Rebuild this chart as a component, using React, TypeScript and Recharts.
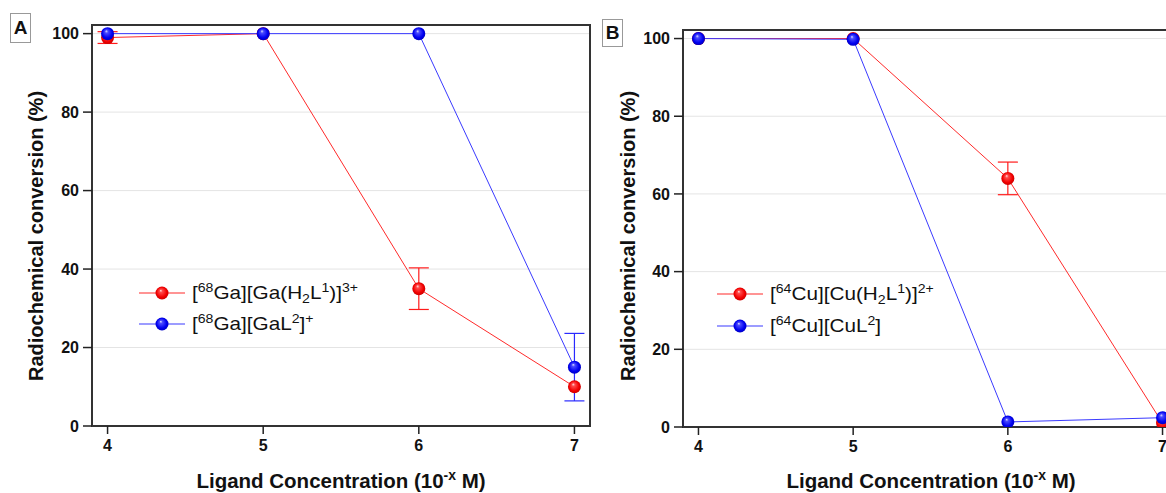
import React from 'react'
import {
  LineChart,
  Line,
  XAxis,
  YAxis,
  CartesianGrid,
  ErrorBar,
  ReferenceArea,
} from 'recharts'

const FONT = '"Liberation Sans", Arial, Helvetica, sans-serif'

// ligand concentration exponents (10^-x M)
const concentrations = [4, 5, 6, 7]
const xTicks = [4, 5, 6, 7]
const yTicks = [0, 20, 40, 60, 80, 100]

// panel A: 68Ga
const gaL1 = [99, 100, 35, 10]
const gaL1Err = [1.5, 0, 5.3, 0]
const gaL2 = [100, 100, 100, 15]
const gaL2Err = [0, 0, 0, 8.6]

// panel B: 64Cu
const cuL1 = [100, 100, 64, 1]
const cuL1Err = [0, 0, 4.2, 0]
const cuL2 = [100, 99.8, 1.3, 2.4]
const cuL2Err = [0, 0, 0, 0]

const RED = '#ff2a2a'
const BLUE = '#3a3aff'

function buildRows(red: number[], redErr: number[], blue: number[], blueErr: number[]) {
  return concentrations.map((x, i) => ({
    x,
    red: red[i],
    redErr: redErr[i],
    blue: blue[i],
    blueErr: blueErr[i],
  }))
}

const sphereDot = (gradId: string) => (props: any) => {
  const { cx, cy, index } = props
  if (cx == null || cy == null) return <g key={`d-${gradId}-${index}`} />
  return (
    <circle
      key={`d-${gradId}-${index}`}
      cx={cx}
      cy={cy}
      r={6.5}
      fill={`url(#${gradId})`}
    />
  )
}

function Sup({ children }: { children: React.ReactNode }) {
  return (
    <span style={{ fontSize: '0.68em', verticalAlign: '0.55em', lineHeight: 0 }}>
      {children}
    </span>
  )
}

function Sub({ children }: { children: React.ReactNode }) {
  return (
    <span style={{ fontSize: '0.68em', verticalAlign: '-0.3em', lineHeight: 0 }}>
      {children}
    </span>
  )
}

function LegendRow({ gradId, color, top, left, children }: any) {
  return (
    <div style={{ position: 'absolute', left, top: top - 14, height: 28, display: 'flex', alignItems: 'center' }}>
      <svg width={48} height={28} style={{ overflow: 'visible' }}>
        <line x1={0} x2={46} y1={14} y2={14} stroke={color} strokeWidth={1.2} />
        <circle cx={23} cy={14} r={6.5} fill={`url(#${gradId})`} />
      </svg>
      <span
        style={{
          marginLeft: 5,
          fontSize: 18.5,
          fontFamily: FONT,
          color: '#111',
          whiteSpace: 'nowrap',
          display: 'inline-block',
          transform: 'scaleX(1.12)',
          transformOrigin: 'left center',
        }}
      >
        {children}
      </span>
    </div>
  )
}

interface PanelProps {
  left: number
  width: number
  margin: { top: number; right: number; bottom: number; left: number }
  rows: ReturnType<typeof buildRows>
}

const Y_AXIS_W = 60
const X_AXIS_H = 40

function Panel({ left, width, margin, rows }: PanelProps) {
  const tickStyle = { fontSize: 16, fontWeight: 700, fill: '#111', fontFamily: FONT }
  return (
    <div style={{ position: 'absolute', left, top: 0 }}>
      <LineChart
        width={width}
        height={493}
        data={rows}
        margin={{
          top: margin.top,
          right: margin.right,
          bottom: margin.bottom - X_AXIS_H,
          left: margin.left - Y_AXIS_W,
        }}
      >
        <CartesianGrid vertical={false} stroke="#e4e4e4" strokeWidth={1} />
        <XAxis
          type="number"
          dataKey="x"
          domain={[3.9, 7.1]}
          ticks={xTicks}
          allowDataOverflow
          height={X_AXIS_H}
          axisLine={false}
          tickLine={{ stroke: '#222', strokeWidth: 1.5 }}
          tickSize={8}
          tickMargin={6}
          tick={tickStyle}
        />
        <YAxis
          type="number"
          domain={[0, 102.2]}
          ticks={yTicks}
          allowDataOverflow
          width={Y_AXIS_W}
          axisLine={false}
          tickLine={{ stroke: '#222', strokeWidth: 1.5 }}
          tickSize={9}
          tickMargin={4}
          tick={tickStyle}
        />
        <ReferenceArea
          x1={3.9}
          x2={7.1}
          y1={0}
          y2={102.2}
          fill="none"
          fillOpacity={0}
          stroke="#333"
          strokeWidth={2}
          ifOverflow="visible"
        />
        <Line
          dataKey="red"
          stroke={RED}
          strokeWidth={1}
          dot={sphereDot('sphereRed')}
          activeDot={false}
          isAnimationActive={false}
        >
          <ErrorBar dataKey="redErr" direction="y" width={10} stroke="#ff1a1a" strokeWidth={1.2} />
        </Line>
        <Line
          dataKey="blue"
          stroke={BLUE}
          strokeWidth={1}
          dot={sphereDot('sphereBlue')}
          activeDot={false}
          isAnimationActive={false}
        >
          <ErrorBar dataKey="blueErr" direction="y" width={10} stroke="#2a2aff" strokeWidth={1.2} />
        </Line>
      </LineChart>
    </div>
  )
}

function PanelLetter({ left, top, h, children }: any) {
  return (
    <div
      style={{
        position: 'absolute',
        left,
        top,
        width: 21,
        height: h,
        border: '1px solid #999',
        boxSizing: 'border-box',
        display: 'flex',
        alignItems: 'center',
        justifyContent: 'center',
        fontFamily: FONT,
        fontWeight: 700,
        fontSize: 19,
        color: '#111',
      }}
    >
      {children}
    </div>
  )
}

function YTitle({ cx, cy }: { cx: number; cy: number }) {
  return (
    <div
      style={{
        position: 'absolute',
        left: cx,
        top: cy,
        transform: 'translate(-50%, -50%) rotate(-90deg)',
        whiteSpace: 'nowrap',
        fontFamily: FONT,
        fontWeight: 700,
        fontSize: 20,
        color: '#111',
      }}
    >
      Radiochemical conversion (%)
    </div>
  )
}

function XTitle({ cx, cy }: { cx: number; cy: number }) {
  return (
    <div
      style={{
        position: 'absolute',
        left: cx,
        top: cy,
        transform: 'translate(-50%, -50%)',
        whiteSpace: 'nowrap',
        fontFamily: FONT,
        fontWeight: 700,
        fontSize: 20.5,
        color: '#111',
      }}
    >
      Ligand Concentration (10<Sup>-x</Sup> M)
    </div>
  )
}

export default function App() {
  const rowsA = buildRows(gaL1, gaL1Err, gaL2, gaL2Err)
  const rowsB = buildRows(cuL1, cuL1Err, cuL2, cuL2Err)

  return (
    <div
      style={{
        position: 'absolute',
        left: 0,
        top: 0,
        width: 1166,
        height: 493,
        overflow: 'hidden',
        background: '#fff',
        fontFamily: FONT,
      }}
    >
      <svg width={0} height={0} style={{ position: 'absolute' }}>
        <defs>
          <radialGradient id="sphereRed" cx="50%" cy="50%" r="55%" fx="40%" fy="30%">
            <stop offset="0%" stopColor="#ffe0e0" />
            <stop offset="22%" stopColor="#ff4a4a" />
            <stop offset="70%" stopColor="#f20000" />
            <stop offset="100%" stopColor="#c00000" />
          </radialGradient>
          <radialGradient id="sphereBlue" cx="50%" cy="50%" r="55%" fx="40%" fy="30%">
            <stop offset="0%" stopColor="#e0e0ff" />
            <stop offset="22%" stopColor="#4a4aff" />
            <stop offset="70%" stopColor="#0000f0" />
            <stop offset="100%" stopColor="#0000b8" />
          </radialGradient>
        </defs>
      </svg>

      <Panel left={0} width={600} margin={{ top: 25, right: 10, bottom: 67, left: 92 }} rows={rowsA} />
      <Panel left={590} width={600} margin={{ top: 30, right: 12, bottom: 66, left: 93 }} rows={rowsB} />

      <PanelLetter left={10} top={13} h={30}>A</PanelLetter>
      <PanelLetter left={602} top={19} h={28}>B</PanelLetter>

      <YTitle cx={36} cy={236} />
      <YTitle cx={628} cy={236} />
      <XTitle cx={341} cy={481} />
      <XTitle cx={931} cy={481} />

      <LegendRow gradId="sphereRed" color={RED} left={139} top={293}>
        [<Sup>68</Sup>Ga][Ga(H<Sub>2</Sub>L<Sup>1</Sup>)]<Sup>3+</Sup>
      </LegendRow>
      <LegendRow gradId="sphereBlue" color={BLUE} left={139} top={324}>
        [<Sup>68</Sup>Ga][GaL<Sup>2</Sup>]<Sup>+</Sup>
      </LegendRow>
      <LegendRow gradId="sphereRed" color={RED} left={717} top={294}>
        [<Sup>64</Sup>Cu][Cu(H<Sub>2</Sub>L<Sup>1</Sup>)]<Sup>2+</Sup>
      </LegendRow>
      <LegendRow gradId="sphereBlue" color={BLUE} left={717} top={326}>
        [<Sup>64</Sup>Cu][CuL<Sup>2</Sup>]
      </LegendRow>
    </div>
  )
}
